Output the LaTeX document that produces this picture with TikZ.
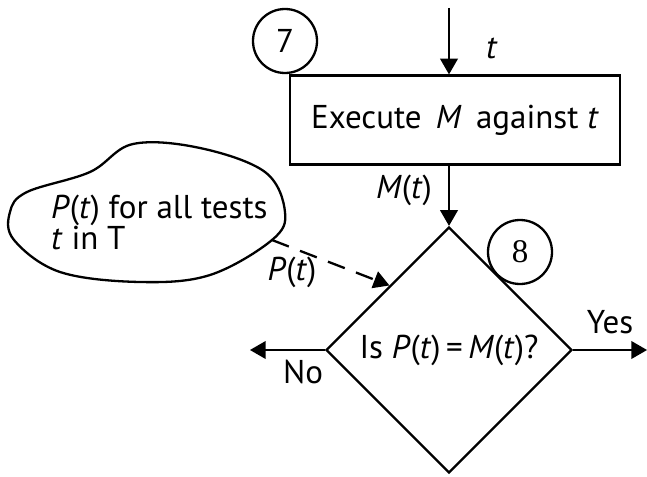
\documentclass[tikz,border=0pt]{standalone}
\usepackage{fontspec}
\setmainfont{PT Sans}
\newfontfamily\numfont{Liberation Serif}
\usetikzlibrary{shapes,arrows,calc}

\begin{document}
\begin{tikzpicture}[%
    x=0.5pt, y=-0.5pt,          % work in image pixels
    >=triangle 60,              % filled arrow heads
    line width=1.15pt,
    font=\fontsize{16.5}{15.5}\selectfont,
    ]
% -------------------------------------------------
% Box styles
\tikzset{
  process/.style={draw, rectangle, minimum width=165pt, minimum height=44.5pt, inner sep=0pt},
  decision/.style={draw, diamond, aspect=1, minimum width=123pt, minimum height=123pt, inner sep=0pt},
  stepno/.style={draw, circle, minimum size=32pt, inner sep=0pt, fill=white},
  norm/.style={->, draw},
  oracle/.style={->, draw, dash pattern=on 9pt off 6pt},
  lbl/.style={inner sep=1pt},
}
\useasboundingbox (0,0) rectangle (647,476);
% -------------------------------------------------
% Nodes
\coordinate (in) at (449,8);
\node [process] (exec) at (455,120) {Execute \,\textit{M}\, against \textit{t}};
\node [decision] (check) at (449,350) {Is \textit{P}(\textit{t})\,=\,\textit{M}(\textit{t})?};
\node [stepno] (n7) at (285,41) {7};
\node [stepno] (n8) at (520,252) {\numfont 8};
\coordinate (noend) at (250,350);
\coordinate (yesend) at (647,350);

% hand drawn cloud holding the expected outputs
\draw plot [smooth cycle, tension=0.6] coordinates {(27,192) (90,172) (133,144) (200,148)
  (265,172) (285,212) (272,240) (210,275) (140,282) (60,272) (14,240) (10,212)};
\node [lbl, align=left, anchor=west] (tests) at (48,222) {\textit{P}(\textit{t}) for all tests\\\textit{t} in T};
\coordinate (cloudtip) at (272,240);

% -------------------------------------------------
% Connectors
\draw[norm] (in) -- (in |- exec.north);
\draw[norm] (check.north |- exec.south) -- (check.north);
\draw[oracle] (cloudtip) -- ($(check.north)!0.48!(check.west)$);
\draw[norm] (check.west) -- (noend);
\draw[norm] (check.east) -- (yesend);

% Labels
\node [lbl] at (492,48) {\textit{t}};
\node [lbl, anchor=east] at (435,190) {\textit{M}(\textit{t})};
\node [lbl] at (292,272) {\textit{P}(\textit{t})};
\node [lbl] at (303,372) {No};
\node [lbl] at (610,322) {Yes};
\end{tikzpicture}
\end{document}
